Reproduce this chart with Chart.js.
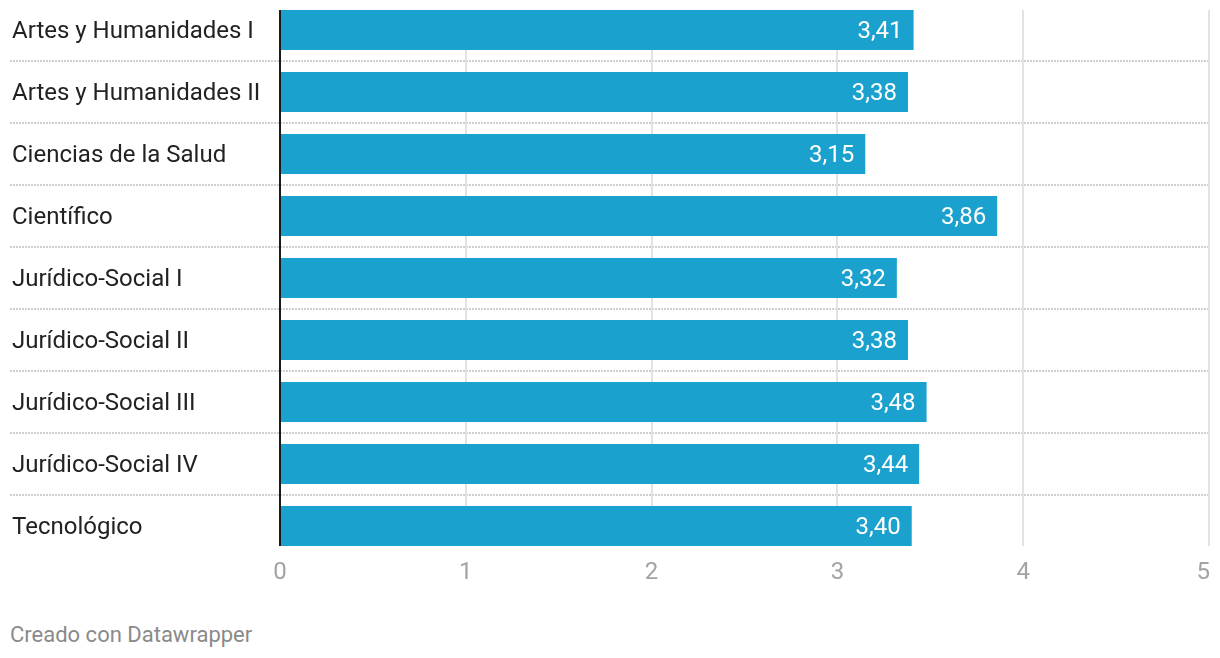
<!DOCTYPE html>
<html>
<head>
<meta charset="utf-8">
<script src="https://cdn.jsdelivr.net/npm/chart.js@4.4.1/dist/chart.umd.min.js"></script>
<style>
  html, body { margin: 0; padding: 0; background: #fff; }
  body { width: 1220px; height: 658px; position: relative; overflow: hidden; font-family: Roboto, sans-serif; }
  #wrap { position: absolute; left: 0; top: -1px; width: 1220px; height: 600px; }
  #footer { position: absolute; left: 10px; top: 622px; font-size: 22px; color: #8a8a8a; font-family: Roboto, sans-serif; }
</style>
</head>
<body>
<div id="wrap"><canvas id="c"></canvas></div>
<div id="footer">Creado con Datawrapper</div>
<script>
const categories = [
  "Artes y Humanidades I",
  "Artes y Humanidades II",
  "Ciencias de la Salud",
  "Científico",
  "Jurídico-Social I",
  "Jurídico-Social II",
  "Jurídico-Social III",
  "Jurídico-Social IV",
  "Tecnológico"
];
const values = [3.41, 3.38, 3.15, 3.86, 3.32, 3.38, 3.48, 3.44, 3.40];
const xTicks = [0, 1, 2, 3, 4, 5];

const BAR_COLOR = "#1aa1cd";

const decorPlugin = {
  id: "decor",
  beforeDatasetsDraw(chart) {
    const ctx = chart.ctx;
    const x = chart.scales.x, y = chart.scales.y;
    const meta = chart.getDatasetMeta(0);
    const half = meta.data[0].height / 2;
    const top = y.getPixelForValue(0) - half;
    const bottom = y.getPixelForValue(categories.length - 1) + half;
    ctx.save();
    // horizontal dotted separators
    ctx.strokeStyle = "#cfcfcf";
    ctx.lineWidth = 2;
    ctx.setLineDash([2, 1]);
    for (let i = 0; i < categories.length - 1; i++) {
      const yy = Math.round((y.getPixelForValue(i) + y.getPixelForValue(i + 1)) / 2);
      ctx.beginPath();
      ctx.moveTo(10, yy);
      ctx.lineTo(x.getPixelForValue(xTicks[xTicks.length - 1]), yy);
      ctx.stroke();
    }
    ctx.setLineDash([]);
    // vertical grid lines
    ctx.strokeStyle = "#e3e3e3";
    ctx.lineWidth = 2;
    xTicks.forEach(t => {
      if (t === 0) return;
      const xx = Math.round(x.getPixelForValue(t));
      ctx.beginPath();
      ctx.moveTo(xx, top);
      ctx.lineTo(xx, bottom);
      ctx.stroke();
    });
    // category labels
    ctx.fillStyle = "#222222";
    ctx.font = "24px Roboto";
    ctx.textAlign = "left";
    ctx.textBaseline = "middle";
    y.ticks.forEach((t, i) => {
      ctx.fillText(categories[t.value], chart.chartArea.left - 268, y.getPixelForValue(t.value) + 2);
    });
    ctx.restore();
  },
  afterDatasetsDraw(chart) {
    const ctx = chart.ctx;
    const x = chart.scales.x, y = chart.scales.y;
    const meta = chart.getDatasetMeta(0);
    const half = meta.data[0].height / 2;
    const top = y.getPixelForValue(0) - half;
    const bottom = y.getPixelForValue(categories.length - 1) + half;
    ctx.save();
    // zero baseline
    ctx.strokeStyle = "#1a1a1a";
    ctx.lineWidth = 2;
    const x0 = Math.round(x.getPixelForValue(0));
    ctx.beginPath();
    ctx.moveTo(x0, top);
    ctx.lineTo(x0, bottom);
    ctx.stroke();
    // value labels
    ctx.fillStyle = "#ffffff";
    ctx.font = "24px Roboto";
    ctx.textAlign = "right";
    ctx.textBaseline = "middle";
    meta.data.forEach((bar, i) => {
      const label = values[i].toFixed(2).replace(".", ",");
      ctx.fillText(label, bar.x - 11, bar.y + 2);
    });
    // x tick labels (first/middle centred, last right-aligned like the reference)
    ctx.fillStyle = "#a3a3a3";
    ctx.font = "24px Roboto";
    ctx.textBaseline = "middle";
    const ty = chart.chartArea.bottom + 16;
    x.ticks.forEach((t, i) => {
      const px = x.getPixelForValue(t.value);
      ctx.textAlign = (i === x.ticks.length - 1) ? "right" : "center";
      ctx.fillText(String(t.value), i === x.ticks.length - 1 ? px + 1 : px, ty);
    });
    ctx.restore();
  }
};

new Chart(document.getElementById("c"), {
  type: "bar",
  data: {
    labels: categories,
    datasets: [{
      data: values,
      backgroundColor: BAR_COLOR,
      borderWidth: 0,
      barPercentage: 40 / 62,
      categoryPercentage: 1.0
    }]
  },
  options: {
    indexAxis: "y",
    responsive: true,
    maintainAspectRatio: false,
    animation: false,
    layout: { padding: { left: 12, right: 11, top: 0, bottom: 0 } },
    plugins: { legend: { display: false }, tooltip: { enabled: false } },
    scales: {
      x: {
        min: 0, max: 5,
        grid: { display: false, drawTicks: false },
        border: { display: false },
        ticks: {
          stepSize: 1,
          display: false,
          font: { family: "Roboto", size: 24 }
        },
        afterFit(scale) {
          scale.height = 42;
          scale.paddingLeft = 0; scale.paddingRight = 0;
        }
      },
      y: {
        grid: { display: false, drawTicks: false },
        border: { display: false },
        ticks: {
          display: false,
          font: { family: "Roboto", size: 24 },
          padding: 0
        },
        afterFit(scale) {
          scale.width = 268;
          scale.paddingTop = 0; scale.paddingBottom = 0;
        }
      }
    }
  },
  plugins: [decorPlugin]
});
</script>
</body>
</html>
